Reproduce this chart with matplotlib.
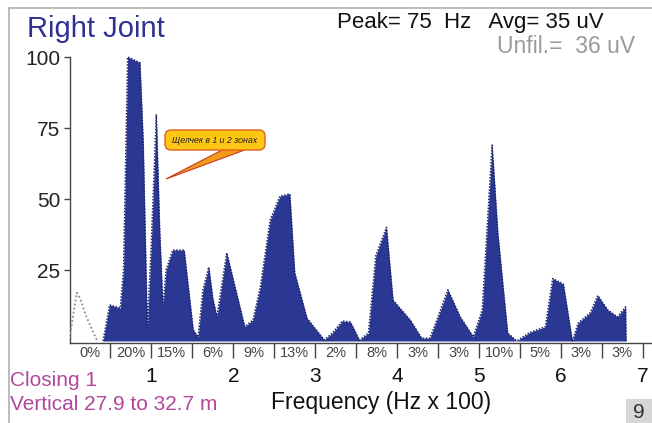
import matplotlib
matplotlib.use("Agg")
import matplotlib.pyplot as plt
from matplotlib.patches import FancyBboxPatch, Polygon
from matplotlib.lines import Line2D
from matplotlib.transforms import IdentityTransform

plt.rcParams['font.family'] = ['Liberation Sans', 'DejaVu Sans']

# ---- data (frequency in Hz x 100, amplitude in %) ----
freq = [0.41, 0.49, 0.62, 0.66, 0.69, 0.71, 0.86, 0.90, 0.95, 1.00, 1.06, 1.10,
        1.14, 1.18, 1.26, 1.40, 1.51, 1.57, 1.63, 1.70, 1.75, 1.80, 1.92, 2.03,
        2.14, 2.24, 2.33, 2.45, 2.57, 2.69, 2.75, 2.90, 3.11, 3.21, 3.33, 3.43,
        3.54, 3.65, 3.74, 3.87, 3.95, 4.16, 4.30, 4.40, 4.50, 4.62, 4.77, 4.93,
        5.04, 5.16, 5.23, 5.35, 5.46, 5.62, 5.81, 5.90, 6.03, 6.14, 6.21, 6.36,
        6.45, 6.57, 6.69, 6.79, 6.795]
amp = [0, 12.7, 11.6, 25, 70, 100, 98, 70, 4, 35, 79.6, 40,
       12, 25, 32, 32, 4, 1.4, 18, 26, 15, 8.5, 31, 18,
       5, 7.4, 19, 42.6, 51, 51.8, 24, 8, 0.4, 2.8, 7, 6.7,
       0.3, 2.8, 30, 40, 14.4, 7.4, 1, 1, 8.5, 18, 8.5, 1.5,
       11, 69, 38, 2.8, 0, 3, 5, 22, 20, 0, 6.3, 10,
       16, 11, 8.5, 12, 0]

unf_freq = [0.0, 0.05, 0.09, 0.13, 0.20, 0.29, 0.34]
unf_amp = [1, 10, 17, 15, 9, 3, 0]

band_pct = ["0%", "20%", "15%", "6%", "9%", "13%", "2%", "8%", "3%", "3%",
            "10%", "5%", "3%", "3%"]
band_width = 0.5
xticks = [1, 2, 3, 4, 5, 6, 7]
yticks = [25, 50, 75, 100]

W, H = 652, 423
fig = plt.figure(figsize=(W / 100, H / 100), dpi=100)

x0, x_end = 69.5, 652
y_top, y_bot = 50, 343
px_x = 81.9      # pixels per 100 Hz
px_y = 2.84      # pixels per unit amplitude
zero_y = 341
ax = fig.add_axes([x0 / W, 1 - y_bot / H, (x_end - x0) / W, (y_bot - y_top) / H])
ax.set_xlim(0, (x_end - x0) / px_x)
ax.set_ylim(-(y_bot - zero_y) / px_y, (zero_y - y_top) / px_y)

blue = '#2a3894'
ax.fill_between(freq, amp, 0, color=blue, lw=0, zorder=2)
ax.plot(freq, amp, color='#1b2466', lw=1.1, ls=(0, (1, 1)), zorder=3)
ax.plot(unf_freq, unf_amp, color='#8c8c8c', lw=1.3, ls=(0, (1, 1.3)), zorder=3)

for s in ['top', 'right']:
    ax.spines[s].set_visible(False)
ax.spines['left'].set_bounds(ax.get_ylim()[0], 100)
ax.spines['left'].set_color('#444444')
ax.spines['bottom'].set_color('#444444')
ax.spines['left'].set_linewidth(1.0)
ax.spines['bottom'].set_linewidth(1.0)

ax.set_yticks(yticks)
ax.set_yticklabels([str(v) for v in yticks])
ax.tick_params(axis='y', length=4.5, width=1, color='#444444', pad=2,
               labelsize=15, labelcolor='#222222')
ax.set_xticks(xticks)
ax.set_xticklabels([str(v) for v in xticks])
ax.tick_params(axis='x', length=0, pad=17, labelsize=15, labelcolor='#111111')

# percentage band
seps = [band_width * (i + 1) for i in range(len(band_pct))]
ax.vlines(seps, -6.0, ax.get_ylim()[0], color='#444444', lw=1, clip_on=False)
for i, p in enumerate(band_pct):
    ax.text(band_width * (i + 0.5), -4.3, p, ha='center', va='center',
            fontsize=10.5, color='#444444', clip_on=False)

# texts
def fy(y):
    return 1 - y / H

fig.text(27 / W, fy(37), "Right Joint", fontsize=21, color='#2e3191',
         ha='left', va='baseline')
fig.text(337 / W, fy(28), "Peak= 75  Hz   Avg= 35 uV", fontsize=16,
         color='#111111', ha='left', va='baseline')
fig.text(497 / W, fy(53), "Unfil.=  36 uV", fontsize=16.5, color='#9a9a9a',
         ha='left', va='baseline')
fig.text(10 / W, fy(386), "Closing 1", fontsize=15, color='#b3479b',
         ha='left', va='baseline')
fig.text(10 / W, fy(410), "Vertical 27.9 to 32.7 m", fontsize=15,
         color='#b3479b', ha='left', va='baseline')
fig.text(381 / W, fy(409), "Frequency (Hz x 100)", fontsize=16.5,
         color='#111111', ha='center', va='baseline')

# page number box
fig.add_artist(FancyBboxPatch((626, 0), 30, 24, boxstyle='square,pad=0',
                              transform=IdentityTransform(), fc='#d6d6d6',
                              ec='none'))
fig.text(639 / W, fy(412), "9", fontsize=15, color='#333333', ha='center',
         va='center')

# frame lines
fig.add_artist(Line2D([9 / W, 1], [fy(8), fy(8)], color='#b0b0b0', lw=1.2))
fig.add_artist(Line2D([9 / W, 9 / W], [0, fy(8)], color='#b0b0b0', lw=1.2))

# callout
fig.add_artist(Polygon([(226, H - 148), (250, H - 148), (166, H - 179)],
                       closed=True, transform=IdentityTransform(),
                       fc='#f29a1a', ec='#c83a1e', lw=0.8, zorder=5))
fig.add_artist(FancyBboxPatch((165, H - 150), 100, 20,
                              boxstyle='round,pad=0,rounding_size=6',
                              transform=IdentityTransform(), fc='#ffc714',
                              ec='#e0601e', lw=1, zorder=6))
fig.text(215 / W, fy(140), "Щелчек в 1 и 2 зонах", fontsize=6.3,
         style='italic', color='#222222', ha='center', va='center', zorder=7)

fig.savefig("out.png", dpi=100)
